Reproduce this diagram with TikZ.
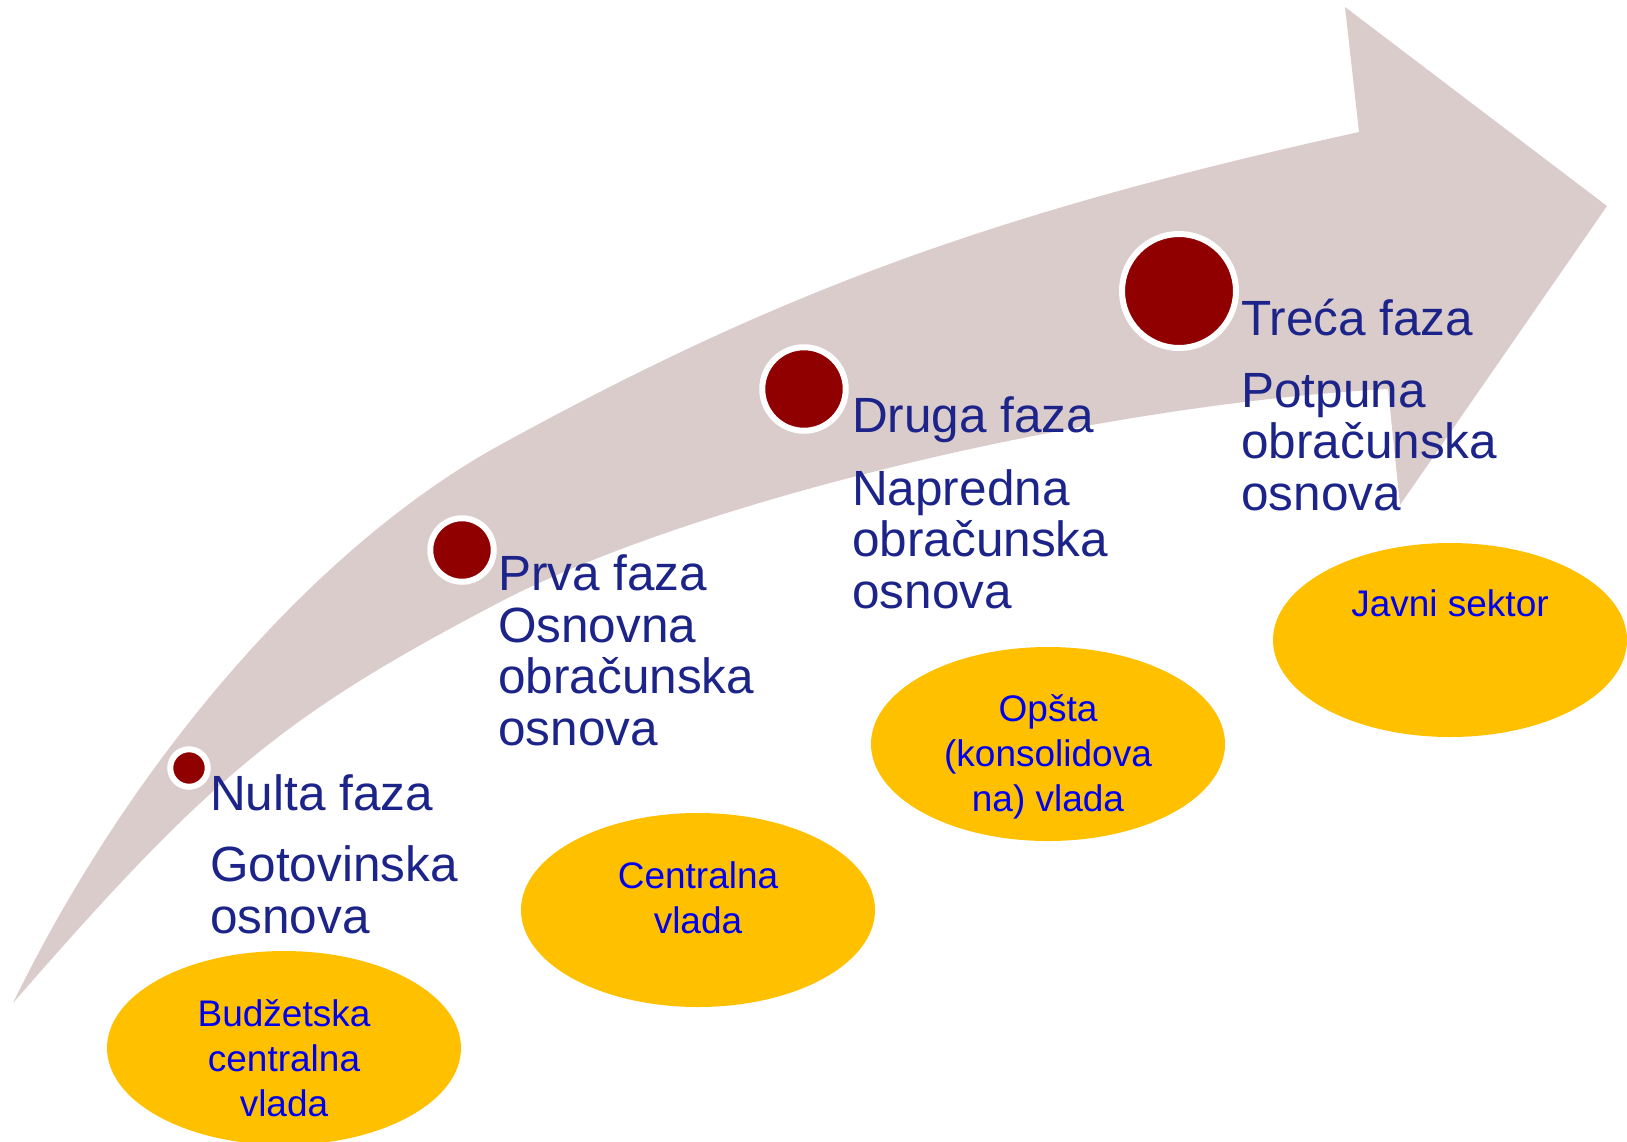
\documentclass[tikz,border=0pt]{standalone}
\usepackage{fontspec}
\setmainfont{Liberation Sans}
\usetikzlibrary{shapes.geometric}
\definecolor{band}{RGB}{219, 204, 204}
\definecolor{dot}{RGB}{145, 0, 0}
\definecolor{navy}{RGB}{28, 36, 138}
\definecolor{gold}{RGB}{255, 192, 0}
\definecolor{ink}{RGB}{0, 0, 240}

\begin{document}
\begin{tikzpicture}[x=1pt, y=-1pt,
    dotnode/.style={circle, fill=dot, draw=white, line width=6pt, inner sep=0pt},
    phase/.style={anchor=base west, align=left, inner sep=0pt, text=navy,
      font=\fontsize{49.5}{51.5}\selectfont},
    scope/.style={ellipse, fill=gold, inner sep=0pt, minimum width=354pt, minimum height=194pt},
    scopetext/.style={anchor=base, align=center, inner sep=0pt, text=ink,
      font=\fontsize{37}{45}\selectfont}]
  \useasboundingbox (0,0) rectangle (1627,1141);

  % Arrow
  \fill[band] (13,1003) .. controls (133,757) and (318,545) .. (500,445)
    .. controls (782,290) and (997,212) .. (1359,132)
    -- (1345,7) -- (1607,206) -- (1400,505) -- (1388,389)
    .. controls (1094,405) and (694,501) .. (500,602)
    .. controls (286,714) and (212,774) .. (13,1003) -- cycle;

  % Phases
  \node[dotnode, minimum size=37.5pt] (c0) at (189,768) {};
  \node[dotnode, minimum size=63.5pt] (c1) at (462,550) {};
  \node[dotnode, minimum size=83.5pt] (c2) at (804,389) {};
  \node[dotnode, minimum size=114pt] (c3) at (1179,291) {};

  \node[phase] (p0) at (210,933) {Nulta faza\\[19.5pt]Gotovinska\\osnova};
  \node[phase] (p1) at (498,745) {Prva faza\\Osnovna\\obračunska\\osnova};
  \node[phase] (p2) at (852,608) {Druga faza\\[21pt]Napredna\\obračunska\\osnova};
  \node[phase] (p3) at (1241,510) {Treća faza\\[20.5pt]Potpuna\\obračunska\\osnova};

  % Scopes
  \node[scope] (e0) at (284,1048) {};
  \node[scope] (e1) at (698,910) {};
  \node[scope] (e2) at (1048,744) {};
  \node[scope] (e3) at (1450,640) {};

  \node[scopetext] (t0) at ([yshift=-166pt]e0.north) {Budžetska\\centralna\\vlada};
  \node[scopetext] (t1) at ([yshift=-121pt]e1.north) {Centralna\\vlada};
  \node[scopetext] (t2) at ([yshift=-165pt]e2.north) {Opšta\\(konsolidova\\na) vlada};
  \node[scopetext] (t3) at ([yshift=-74pt]e3.north) {Javni sektor};
\end{tikzpicture}
\end{document}
